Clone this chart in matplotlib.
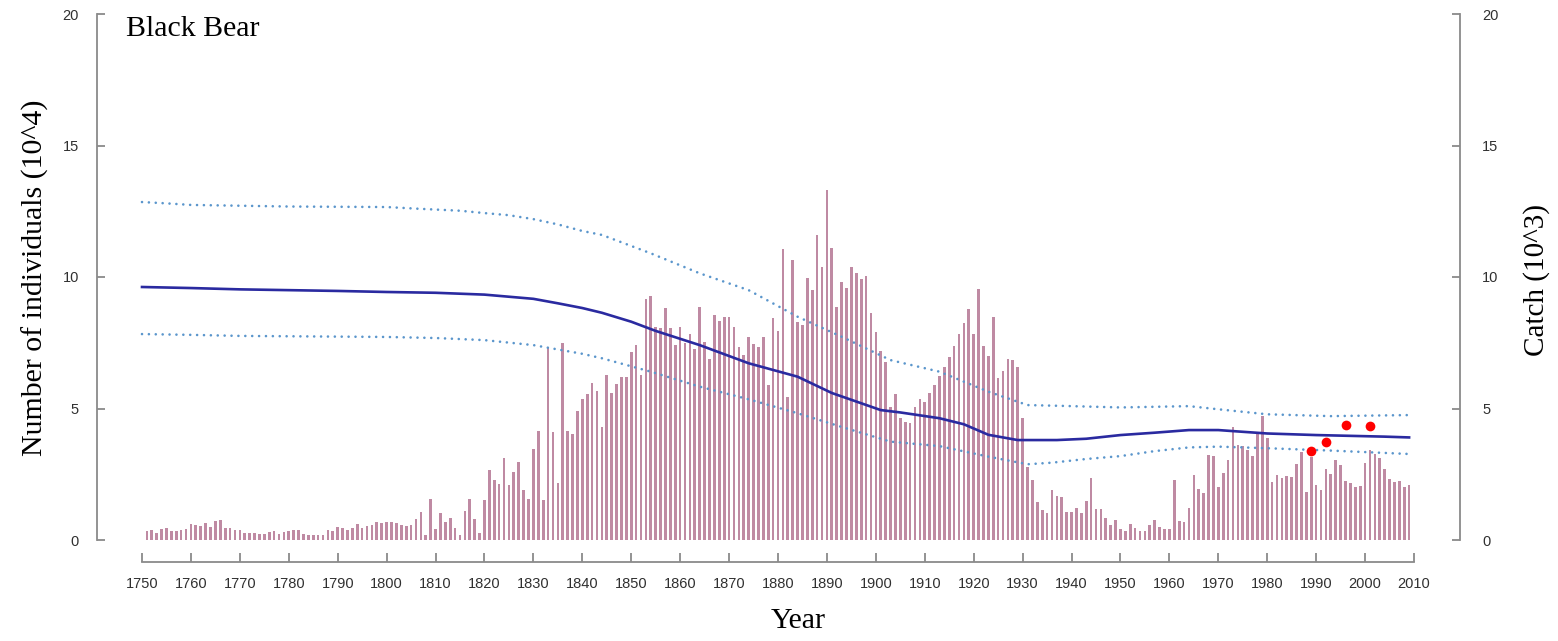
import numpy as np
import matplotlib
matplotlib.use("Agg")
import matplotlib.pyplot as plt

# ---------------- data ----------------
catch_start_year = 1751
catch = [
    0.35, 0.39, 0.27, 0.43, 0.46, 0.34, 0.34, 0.37, 0.43, 0.62,
    0.58, 0.55, 0.65, 0.49, 0.72, 0.75, 0.46, 0.47, 0.37, 0.39,
    0.27, 0.27, 0.27, 0.24, 0.24, 0.30, 0.33, 0.24, 0.30, 0.33,
    0.39, 0.37, 0.24, 0.20, 0.18, 0.19, 0.20, 0.39, 0.33, 0.49,
    0.47, 0.37, 0.47, 0.62, 0.47, 0.52, 0.56, 0.67, 0.63, 0.68,
    0.68, 0.63, 0.56, 0.53, 0.56, 0.79, 1.06, 0.18, 1.56, 0.42,
    1.03, 0.68, 0.84, 0.44, 0.18, 1.09, 1.56, 0.79, 0.28, 1.51,
    2.67, 2.29, 2.14, 3.12, 2.10, 2.57, 2.97, 1.91, 1.56, 3.47,
    4.13, 1.51, 7.35, 4.09, 2.18, 7.48, 4.13, 4.03, 4.90, 5.36,
    5.54, 5.97, 5.65, 4.30, 6.28, 5.58, 5.93, 6.18, 6.18, 7.15,
    7.40, 6.26, 9.16, 9.26, 8.09, 8.05, 8.81, 8.05, 7.40, 8.11,
    7.50, 7.82, 7.26, 8.85, 7.52, 6.87, 8.57, 8.34, 8.49, 8.47,
    8.09, 7.35, 7.05, 7.71, 7.45, 7.33, 7.71, 5.89, 8.43, 7.93,
    11.06, 5.45, 10.65, 8.30, 8.17, 9.96, 9.51, 11.60, 10.39, 13.31,
    11.09, 8.85, 9.82, 9.57, 10.37, 10.16, 9.92, 10.05, 8.62, 7.90,
    7.19, 6.76, 5.07, 5.55, 4.63, 4.50, 4.44, 5.04, 5.36, 5.26,
    5.58, 5.89, 6.25, 6.59, 6.97, 7.38, 7.82, 8.24, 8.78, 7.82,
    9.54, 7.39, 7.01, 8.47, 6.17, 6.41, 6.88, 6.84, 6.59, 4.63,
    2.76, 2.27, 1.44, 1.13, 1.02, 1.89, 1.66, 1.62, 1.05, 1.05,
    1.22, 1.03, 1.47, 2.37, 1.17, 1.17, 0.84, 0.58, 0.77, 0.42,
    0.33, 0.62, 0.47, 0.33, 0.33, 0.58, 0.77, 0.49, 0.43, 0.43,
    2.28, 0.71, 0.68, 1.22, 2.47, 1.95, 1.77, 3.24, 3.21, 2.02,
    2.55, 3.03, 4.30, 3.60, 3.56, 3.41, 3.18, 4.02, 4.73, 3.88,
    2.21, 2.48, 2.36, 2.42, 2.40, 2.90, 3.35, 1.83, 3.17, 2.10,
    1.91, 2.69, 2.52, 3.03, 2.84, 2.24, 2.17, 2.02, 2.05, 2.93,
    3.43, 3.28, 3.12, 2.69, 2.31, 2.21, 2.23, 2.02, 2.08,
]
catch_years = list(range(catch_start_year, catch_start_year + len(catch)))

mean_years = [1750, 1760, 1770, 1780, 1790, 1800, 1810, 1820, 1830, 1835, 1840, 1844,
              1850, 1855, 1864, 1874, 1884, 1891, 1897, 1901, 1905, 1913, 1918, 1923,
              1929, 1937, 1943, 1950, 1957, 1964, 1970, 1973, 1980, 1990, 2004, 2009]
mean_vals = [9.62, 9.58, 9.53, 9.50, 9.47, 9.43, 9.40, 9.33, 9.17, 9.00, 8.82, 8.64,
             8.30, 7.95, 7.41, 6.72, 6.21, 5.59, 5.20, 4.94, 4.85, 4.63, 4.40, 4.00,
             3.80, 3.80, 3.85, 3.99, 4.08, 4.18, 4.18, 4.14, 4.05, 3.99, 3.93, 3.90]

upper_years = [1750, 1755, 1760, 1780, 1800, 1806, 1815, 1820, 1825, 1830, 1835, 1840,
               1844, 1854, 1864, 1874, 1884, 1893, 1903, 1913, 1923, 1931, 1938, 1950,
               1964, 1970, 1980, 1993, 2009]
upper_vals = [12.85, 12.80, 12.74, 12.68, 12.66, 12.60, 12.52, 12.43, 12.35, 12.20, 12.00, 11.75,
              11.60, 10.90, 10.14, 9.50, 8.49, 7.73, 6.84, 6.40, 5.64, 5.13, 5.10, 5.04,
              5.09, 4.97, 4.78, 4.71, 4.75]

lower_years = [1750, 1760, 1770, 1800, 1810, 1820, 1830, 1840, 1844, 1854, 1864, 1874,
               1884, 1893, 1903, 1913, 1923, 1931, 1936, 1943, 1950, 1957, 1964, 1970,
               1980, 1993, 2009]
lower_vals = [7.83, 7.80, 7.76, 7.72, 7.68, 7.60, 7.41, 7.08, 6.91, 6.40, 5.83, 5.35,
              4.82, 4.30, 3.74, 3.57, 3.17, 2.88, 2.94, 3.08, 3.19, 3.38, 3.52, 3.55,
              3.49, 3.40, 3.27]

obs_years = [1989, 1992, 1996, 2001]
obs_vals = [3.40, 3.71, 4.37, 4.35]

x_ticks = list(range(1750, 2011, 10))
y_ticks = [0, 5, 10, 15, 20]

# ---------------- figure ----------------
W, H = 1558, 641
fig = plt.figure(figsize=(W / 100, H / 100), dpi=100)

ax_left_px, ax_right_px = 97, 1460
ax_bottom_px, ax_top_px = 562, 14
ax = fig.add_axes([ax_left_px / W, (H - ax_bottom_px) / H,
                   (ax_right_px - ax_left_px) / W, (ax_bottom_px - ax_top_px) / H])

px_per_year = (1414 - 142) / 260.0
xmin = 1750 - (142 - ax_left_px) / px_per_year
xmax = 2010 + (ax_right_px - 1414) / px_per_year
px_per_unit = (540 - 14) / 20.0
ymin = -(ax_bottom_px - 540) / px_per_unit
ax.set_xlim(xmin, xmax)
ax.set_ylim(ymin, 20)

bar_color = "#bf8aa3"
ax.bar(catch_years, catch, width=0.55, color=bar_color, edgecolor="none", zorder=2)

dot_style = (0, (0.01, 2.6))
ax.plot(upper_years, upper_vals, color="#5b96cc", lw=1.9, linestyle=dot_style,
        dash_capstyle="round", zorder=3)
ax.plot(lower_years, lower_vals, color="#5b96cc", lw=1.9, linestyle=dot_style,
        dash_capstyle="round", zorder=3)
ax.plot(mean_years, mean_vals, color="#2a2aa0", lw=1.9, zorder=4)
ax.plot(obs_years, obs_vals, "o", color="#ff0000", markersize=7, markeredgewidth=0, zorder=5)

spine_color = "#8a8a8a"
for s in ["top", "right"]:
    ax.spines[s].set_visible(False)
ax.spines["left"].set_bounds(0, 20)
ax.spines["bottom"].set_bounds(1750, 2010)
for s in ["left", "bottom"]:
    ax.spines[s].set_color(spine_color)
    ax.spines[s].set_linewidth(1.3)

tick_fs = 10.5
ax.set_xticks(x_ticks)
ax.set_xticklabels([str(t) for t in x_ticks])
ax.set_yticks(y_ticks)
ax.set_yticklabels([str(t) for t in y_ticks])
for lab in ax.get_xticklabels() + ax.get_yticklabels():
    lab.set_fontfamily("Liberation Sans")
    lab.set_fontsize(tick_fs)
    lab.set_color("#303030")
ax.tick_params(axis="x", direction="in", length=6.5, width=1.3, color=spine_color, pad=11)
ax.tick_params(axis="y", direction="in", length=6, width=1.3, color=spine_color, pad=13)

# right axis
ax2 = ax.twinx()
ax2.set_ylim(ymin, 20)
for s in ["top", "left", "bottom"]:
    ax2.spines[s].set_visible(False)
ax2.spines["right"].set_bounds(0, 20)
ax2.spines["right"].set_color(spine_color)
ax2.spines["right"].set_linewidth(1.3)
ax2.set_yticks(y_ticks)
ax2.set_yticklabels([str(t) for t in y_ticks])
for lab in ax2.get_yticklabels():
    lab.set_fontfamily("Liberation Sans")
    lab.set_fontsize(tick_fs)
    lab.set_color("#303030")
ax2.tick_params(axis="y", direction="in", length=6, width=1.3, color=spine_color, pad=16)

serif = "Liberation Serif"
fig.text(798 / W, 1 - 621 / H, "Year", ha="center", va="center", fontsize=21.5, family=serif)
fig.text(35 / W, 1 - 278 / H, "Number of individuals (10^4)", ha="center", va="center",
         rotation=90, fontsize=21.5, family=serif)
fig.text(1537 / W, 1 - 280 / H, "Catch (10^3)", ha="center", va="center",
         rotation=90, fontsize=21, family=serif)
fig.text(126 / W, 1 - 29 / H, "Black Bear", ha="left", va="center", fontsize=21.5, family=serif)

fig.savefig("out.png", dpi=100)
